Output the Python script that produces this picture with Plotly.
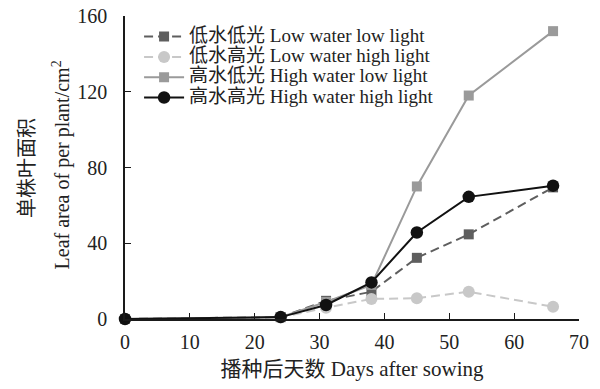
import plotly.graph_objects as go

days = [0, 24, 31, 38, 45, 53, 66]
low_water_low_light = [0, 1, 9.6, 14.4, 32.3, 44.7, 69.5]
low_water_high_light = [0, 0.8, 6, 10.6, 11, 14.4, 6.5]
high_water_low_light = [0, 1, 9, 18, 70, 118, 152]
high_water_high_light = [0, 1, 7.4, 19.3, 45.7, 64.5, 70.4]

names = ["低水低光 Low water low light", "低水高光 Low water high light",
         "高水低光 High water low light", "高水高光 High water high light"]
x_ticks = [0, 10, 20, 30, 40, 50, 60, 70]
y_ticks = [0, 40, 80, 120, 160]

FONT = "Liberation Serif, Times New Roman, Noto Sans CJK SC, serif"
AX = "#1a1a1a"


def lbl(t):
    return '<span style="font-size:19px">' + t + '</span>'


fig = go.Figure()
fig.add_trace(go.Scatter(x=days, y=low_water_low_light, name=lbl(names[0]), mode="lines+markers",
                         line=dict(color="#5e5e5e", width=2, dash="9px,5px"),
                         marker=dict(symbol="square", size=10, color="#5e5e5e"), cliponaxis=False))
fig.add_trace(go.Scatter(x=days, y=low_water_high_light, name=lbl(names[1]), mode="lines+markers",
                         line=dict(color="#c8c8c8", width=2, dash="9px,5px"),
                         marker=dict(symbol="circle", size=12, color="#c8c8c8"), cliponaxis=False))
fig.add_trace(go.Scatter(x=days, y=high_water_low_light, name=lbl(names[2]), mode="lines+markers",
                         line=dict(color="#9a9a9a", width=2),
                         marker=dict(symbol="square", size=10, color="#9a9a9a"), cliponaxis=False))
fig.add_trace(go.Scatter(x=days, y=high_water_high_light, name=lbl(names[3]), mode="lines+markers",
                         line=dict(color="#111111", width=2),
                         marker=dict(symbol="circle", size=12.5, color="#111111"), cliponaxis=False))

fig.update_layout(
    width=600, height=389,
    margin=dict(l=125, r=21, t=16, b=70, autoexpand=False),
    paper_bgcolor="white", plot_bgcolor="white",
    font=dict(family=FONT, size=20, color="#222"),
    showlegend=True,
    legend=dict(x=0.031, y=0.982, xanchor="left", yanchor="top", bgcolor="rgba(0,0,0,0)",
                font=dict(size=13.3), tracegroupgap=0, itemwidth=40),
    xaxis=dict(range=[0, 70], tickvals=x_ticks, showgrid=False, automargin=False,
               zeroline=False, showline=True, linecolor=AX, linewidth=1.5,
               ticks="inside", ticklen=6, tickcolor=AX, ticklabelstandoff=4,
               title=dict(text="播种后天数 Days after sowing", font=dict(size=21), standoff=10)),
    yaxis=dict(range=[0, 160], tickvals=y_ticks, showgrid=False, automargin=False,
               zeroline=False, showline=True, linecolor=AX, linewidth=1.5,
               ticks="inside", ticklen=6, tickcolor=AX, ticklabelstandoff=12),
    annotations=[
        dict(text="单株叶面积", xref="paper", yref="paper", x=-0.216, y=0.498,
             xanchor="center", yanchor="middle", textangle=-90, showarrow=False,
             font=dict(size=20)),
        dict(text="Leaf area of per plant/cm<sup>2</sup>", xref="paper", yref="paper",
             x=-0.141, y=0.51, xanchor="center", yanchor="middle", textangle=-90,
             showarrow=False, font=dict(size=20)),
    ],
)

fig.write_html("out.html", config=dict(displayModeBar=False),
               post_script="document.body.style.margin='0';document.body.style.overflow='hidden';")
